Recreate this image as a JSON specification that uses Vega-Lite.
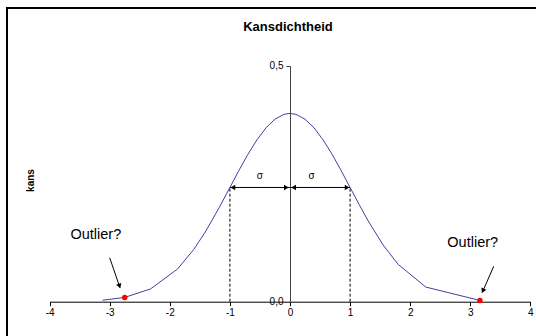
{
  "$schema": "https://vega.github.io/schema/vega-lite/v6.json",
  "autosize": "none",
  "padding": {"left": 7, "top": 8, "right": 0, "bottom": 0},
  "width": 562,
  "height": 340,
  "background": "white",
  "config": {
    "view": {"stroke": "#000", "strokeWidth": 2},
    "font": "Liberation Sans"
  },
  "title": {
    "text": "Kansdichtheid",
    "font": "Liberation Sans",
    "fontSize": 13,
    "fontWeight": "bold",
    "color": "#000",
    "anchor": "middle",
    "frame": "group",
    "baseline": "top",
    "offset": -26
  },
  "encoding": {
    "x": {
      "field": "x",
      "type": "quantitative",
      "scale": {"domain": [-4, 4], "range": [42.6, 523.4], "nice": false, "zero": false},
      "axis": {
        "values": [-4, -3, -2, -1, 0, 1, 2, 3, 4],
        "labelExpr": "datum.value + ''",
        "title": null,
        "grid": false,
        "offset": -46.3,
        "tickSize": 4,
        "tickColor": "#000",
        "domainColor": "#000",
        "labelColor": "#000",
        "labelFont": "Liberation Sans",
        "labelFontSize": 10,
        "labelPadding": 2,
        "labelFlush": false,
        "labelOverlap": false
      }
    },
    "y": {
      "field": "y",
      "type": "quantitative",
      "scale": {"domain": [0, 0.5], "range": [293.7, 57.7], "nice": false, "zero": false},
      "axis": {
        "values": [0, 0.5],
        "labelExpr": "replace(format(datum.value, '.1f'), '.', ',')",
        "title": "kans",
        "titleFont": "Liberation Sans",
        "titleFontSize": 10,
        "titleFontWeight": "bold",
        "titleColor": "#000",
        "titleX": -260,
        "titleY": 172,
        "titleAlign": "center",
        "titleBaseline": "middle",
        "grid": false,
        "offset": -283,
        "tickSize": 4,
        "tickColor": "#444",
        "domainColor": "#444",
        "labelColor": "#000",
        "labelFont": "Liberation Sans",
        "labelFontSize": 10,
        "labelPadding": 3,
        "labelFlush": false,
        "labelOverlap": false
      }
    }
  },
  "layer": [
    {
      "data": {"values": [
        {"x": -3.12, "y": 0.0031},
        {"x": -2.75, "y": 0.0091},
        {"x": -2.32, "y": 0.0271},
        {"x": -1.87, "y": 0.0694},
        {"x": -1.6, "y": 0.1109},
        {"x": -1.41, "y": 0.1476},
        {"x": -1.18, "y": 0.1989},
        {"x": -1.0, "y": 0.242},
        {"x": -0.85, "y": 0.278},
        {"x": -0.7, "y": 0.3123},
        {"x": -0.55, "y": 0.3429},
        {"x": -0.4, "y": 0.3683},
        {"x": -0.25, "y": 0.3867},
        {"x": -0.1, "y": 0.397},
        {"x": 0.0, "y": 0.3989},
        {"x": 0.1, "y": 0.397},
        {"x": 0.25, "y": 0.3867},
        {"x": 0.4, "y": 0.3683},
        {"x": 0.55, "y": 0.3429},
        {"x": 0.7, "y": 0.3123},
        {"x": 0.85, "y": 0.278},
        {"x": 1.0, "y": 0.242},
        {"x": 1.15, "y": 0.206},
        {"x": 1.3, "y": 0.1714},
        {"x": 1.55, "y": 0.12},
        {"x": 1.8, "y": 0.079},
        {"x": 2.26, "y": 0.031},
        {"x": 3.16, "y": 0.0027}
      ]},
      "mark": {"type": "line", "color": "#3f3fa8", "strokeWidth": 1}
    },
    {
      "data": {"values": [
        {"x": -1, "y": 0, "y2": 0.242},
        {"x": 1, "y": 0, "y2": 0.242}
      ]},
      "mark": {"type": "rule", "color": "#000", "strokeWidth": 1, "strokeDash": [3, 2]},
      "encoding": {"y2": {"field": "y2"}}
    },
    {
      "data": {"values": [
        {"x": -1, "x2": 0, "y": 0.242},
        {"x": 0, "x2": 1, "y": 0.242}
      ]},
      "mark": {"type": "rule", "color": "#000", "strokeWidth": 1},
      "encoding": {"x2": {"field": "x2"}}
    },
    {
      "data": {"values": [
        {"x": -0.95, "y": 0.242},
        {"x": 0.06, "y": 0.242}
      ]},
      "mark": {"type": "point", "shape": "triangle-left", "filled": true, "color": "#000", "size": 30, "opacity": 1}
    },
    {
      "data": {"values": [
        {"x": -0.06, "y": 0.242},
        {"x": 0.95, "y": 0.242}
      ]},
      "mark": {"type": "point", "shape": "triangle-right", "filled": true, "color": "#000", "size": 30, "opacity": 1}
    },
    {
      "data": {"values": [
        {"x": -3.0, "y": 0.093, "x2": -2.83, "y2": 0.03},
        {"x": 3.39, "y": 0.075, "x2": 3.2, "y2": 0.02}
      ]},
      "mark": {"type": "rule", "color": "#000", "strokeWidth": 1},
      "encoding": {"x2": {"field": "x2"}, "y2": {"field": "y2"}}
    },
    {
      "data": {"values": [{"x": -2.837, "y": 0.033}]},
      "mark": {"type": "point", "shape": "triangle-down", "angle": -19, "filled": true, "color": "#000", "size": 30, "opacity": 1}
    },
    {
      "data": {"values": [{"x": 3.21, "y": 0.023}]},
      "mark": {"type": "point", "shape": "triangle-down", "angle": 24, "filled": true, "color": "#000", "size": 30, "opacity": 1}
    },
    {
      "data": {"values": [
        {"x": -2.75, "y": 0.0091},
        {"x": 3.16, "y": 0.0027}
      ]},
      "mark": {"type": "circle", "color": "#ff0000", "size": 30, "opacity": 1}
    },
    {
      "data": {"values": [
        {"x": -3.23, "y": 0.141, "label": "Outlier?"},
        {"x": 3.04, "y": 0.124, "label": "Outlier?"}
      ]},
      "mark": {"type": "text", "font": "Liberation Sans", "fontSize": 14.5, "color": "#000", "align": "center", "baseline": "middle"},
      "encoding": {"text": {"field": "label"}}
    },
    {
      "data": {"values": [
        {"x": -0.5, "y": 0.266, "label": "σ"},
        {"x": 0.36, "y": 0.266, "label": "σ"}
      ]},
      "mark": {"type": "text", "font": "Liberation Sans", "fontSize": 10, "color": "#000", "align": "center", "baseline": "middle"},
      "encoding": {"text": {"field": "label"}}
    }
  ]
}
